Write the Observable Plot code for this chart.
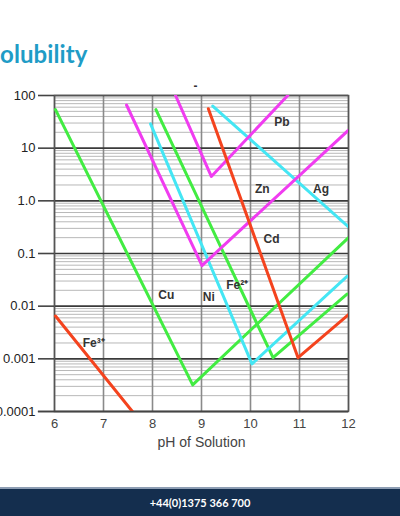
<!DOCTYPE html>
<html>
<head>
<meta charset="utf-8">
<script src="https://cdn.jsdelivr.net/npm/d3@7"></script>
<script src="https://cdn.jsdelivr.net/npm/@observablehq/plot@0.6"></script>
<style>
  html, body { margin: 0; padding: 0; background: #fff; width: 400px; height: 516px; overflow: hidden; position: relative; }
  #title { position: absolute; left: 0; top: 39px; font-family: Lato, "Open Sans", sans-serif; font-weight: 700; font-size: 24px; color: #1f9cc6; letter-spacing: 0.1px; }
  #chart { position: absolute; left: 0; top: 70px; }
  #footer { position: absolute; left: 0; top: 487px; width: 400px; height: 29px; background: #142e4e; border-top: 2px solid #8d9db3; box-sizing: border-box; color: #fff; font-family: Lato, "Open Sans", sans-serif; font-weight: 700; font-size: 11px; text-align: center; line-height: 27px; }
</style>
</head>
<body>
<div id="title">olubility</div>
<div id="chart"></div>
<div id="footer">+44(0)1375 366 700</div>
<script>
// ---- data ----
const xTicks = [6, 7, 8, 9, 10, 11, 12];
const yTicks = [0.0001, 0.001, 0.01, 0.1, 1, 10, 100];
const yTickLabels = ["0.0001", "0.001", "0.01", "0.1", "1.0", "10", "100"];
const xLabel = "pH of Solution";

const cuPH  = [6.02, 8.82, 12];    const cuSol  = [54, 0.00032, 0.2];
const fe3PH = [6.02, 7.59];        const fe3Sol = [0.0065, 0.0001];
const fe2PH = [8.07, 10.46, 11.97]; const fe2Sol = [54, 0.00105, 0.017];
const niPH  = [7.96, 10.03, 11.97]; const niSol  = [29, 0.0008, 0.037];
const agPH  = [9.23, 12];          const agSol  = [63, 0.32];
const pbPH  = [8.47, 9.2, 10.76];  const pbSol  = [100, 2.9, 100];
const znPH  = [7.47, 9.01, 12];    const znSol  = [66, 0.059, 22];
const cdPH  = [9.14, 10.97, 12];   const cdSol  = [56, 0.00105, 0.0069];

const labelText = ["Pb", "Zn", "Ag", "Cd", "Cu", "Ni", "Fe²⁺", "Fe³⁺"];
const labelPH   = [10.64, 10.24, 11.44, 10.43, 8.28, 9.15, 9.73, 6.8];
const labelSol  = [31, 1.7, 1.7, 0.19, 0.016, 0.015, 0.025, 0.002];

// ---- build tables ----
const series = [
  {name: "Cu", ph: cuPH, sol: cuSol, color: "#42ec42"},
  {name: "Fe3", ph: fe3PH, sol: fe3Sol, color: "#f4431e"},
  {name: "Fe2", ph: fe2PH, sol: fe2Sol, color: "#42ec42"},
  {name: "Ni", ph: niPH, sol: niSol, color: "#44e6f4"},
  {name: "Ag", ph: agPH, sol: agSol, color: "#44e6f4"},
  {name: "Pb", ph: pbPH, sol: pbSol, color: "#f03cf0"},
  {name: "Zn", ph: znPH, sol: znSol, color: "#f03cf0"},
  {name: "Cd", ph: cdPH, sol: cdSol, color: "#f4431e"}
];
const rows = series.flatMap(s => s.ph.map((p, i) => ({name: s.name, ph: p, sol: s.sol[i], color: s.color})));
const labels = labelText.map((t, i) => ({t, ph: labelPH[i], sol: labelSol[i]}));

const minor = [];
for (let e = -4; e < 2; e++) for (let m = 2; m <= 9; m++) minor.push(m * Math.pow(10, e));

const plot = Plot.plot({
  width: 400,
  height: 410,
  marginLeft: 54,
  marginRight: 52,
  marginTop: 25,
  marginBottom: 69,
  style: {fontFamily: "'Liberation Sans', Arial, sans-serif", background: "transparent"},
  x: {domain: [6, 12]},
  y: {type: "log", domain: [0.0001, 100]},
  marks: [
    Plot.ruleY(minor, {stroke: "#b8b8b8", strokeWidth: 1}),
    Plot.ruleX(xTicks, {stroke: "#8a8a8a", strokeWidth: 1.6}),
    Plot.ruleY(yTicks, {stroke: "#3a3a3a", strokeWidth: 1.6}),
    Plot.frame({stroke: "#555", strokeWidth: 1.5}),
    Plot.line(rows, {x: "ph", y: "sol", z: "name", stroke: "color", strokeWidth: 3, clip: true}),
    Plot.text(labels, {x: "ph", y: "sol", text: "t", fontSize: 12, fontWeight: "bold", fill: "#333"}),
    Plot.axisY({ticks: yTicks, tickFormat: d => yTickLabels[yTicks.indexOf(d)], tickSize: 16, tickPadding: 3, fontSize: 13, label: null, stroke: "#444", strokeWidth: 1.6, color: "#222"}),
    Plot.axisX({ticks: xTicks, tickFormat: d => String(d), tickSize: 0, tickPadding: 7, fontSize: 13, label: null, color: "#444"}),
    Plot.ruleY([0.0001], {x1: 5.67, x2: 12, stroke: "#444", strokeWidth: 1.6, clip: false}),
    Plot.text([xLabel], {frameAnchor: "bottom", text: d => d, dy: 35, fontSize: 14, fill: "#444"}),
    Plot.text(["-"], {frameAnchor: "top-left", dx: 139, dy: -14, text: d => d, fontSize: 12, fontWeight: "bold", fill: "#333"})
  ]
});
document.getElementById("chart").appendChild(plot);
</script>
</body>
</html>
